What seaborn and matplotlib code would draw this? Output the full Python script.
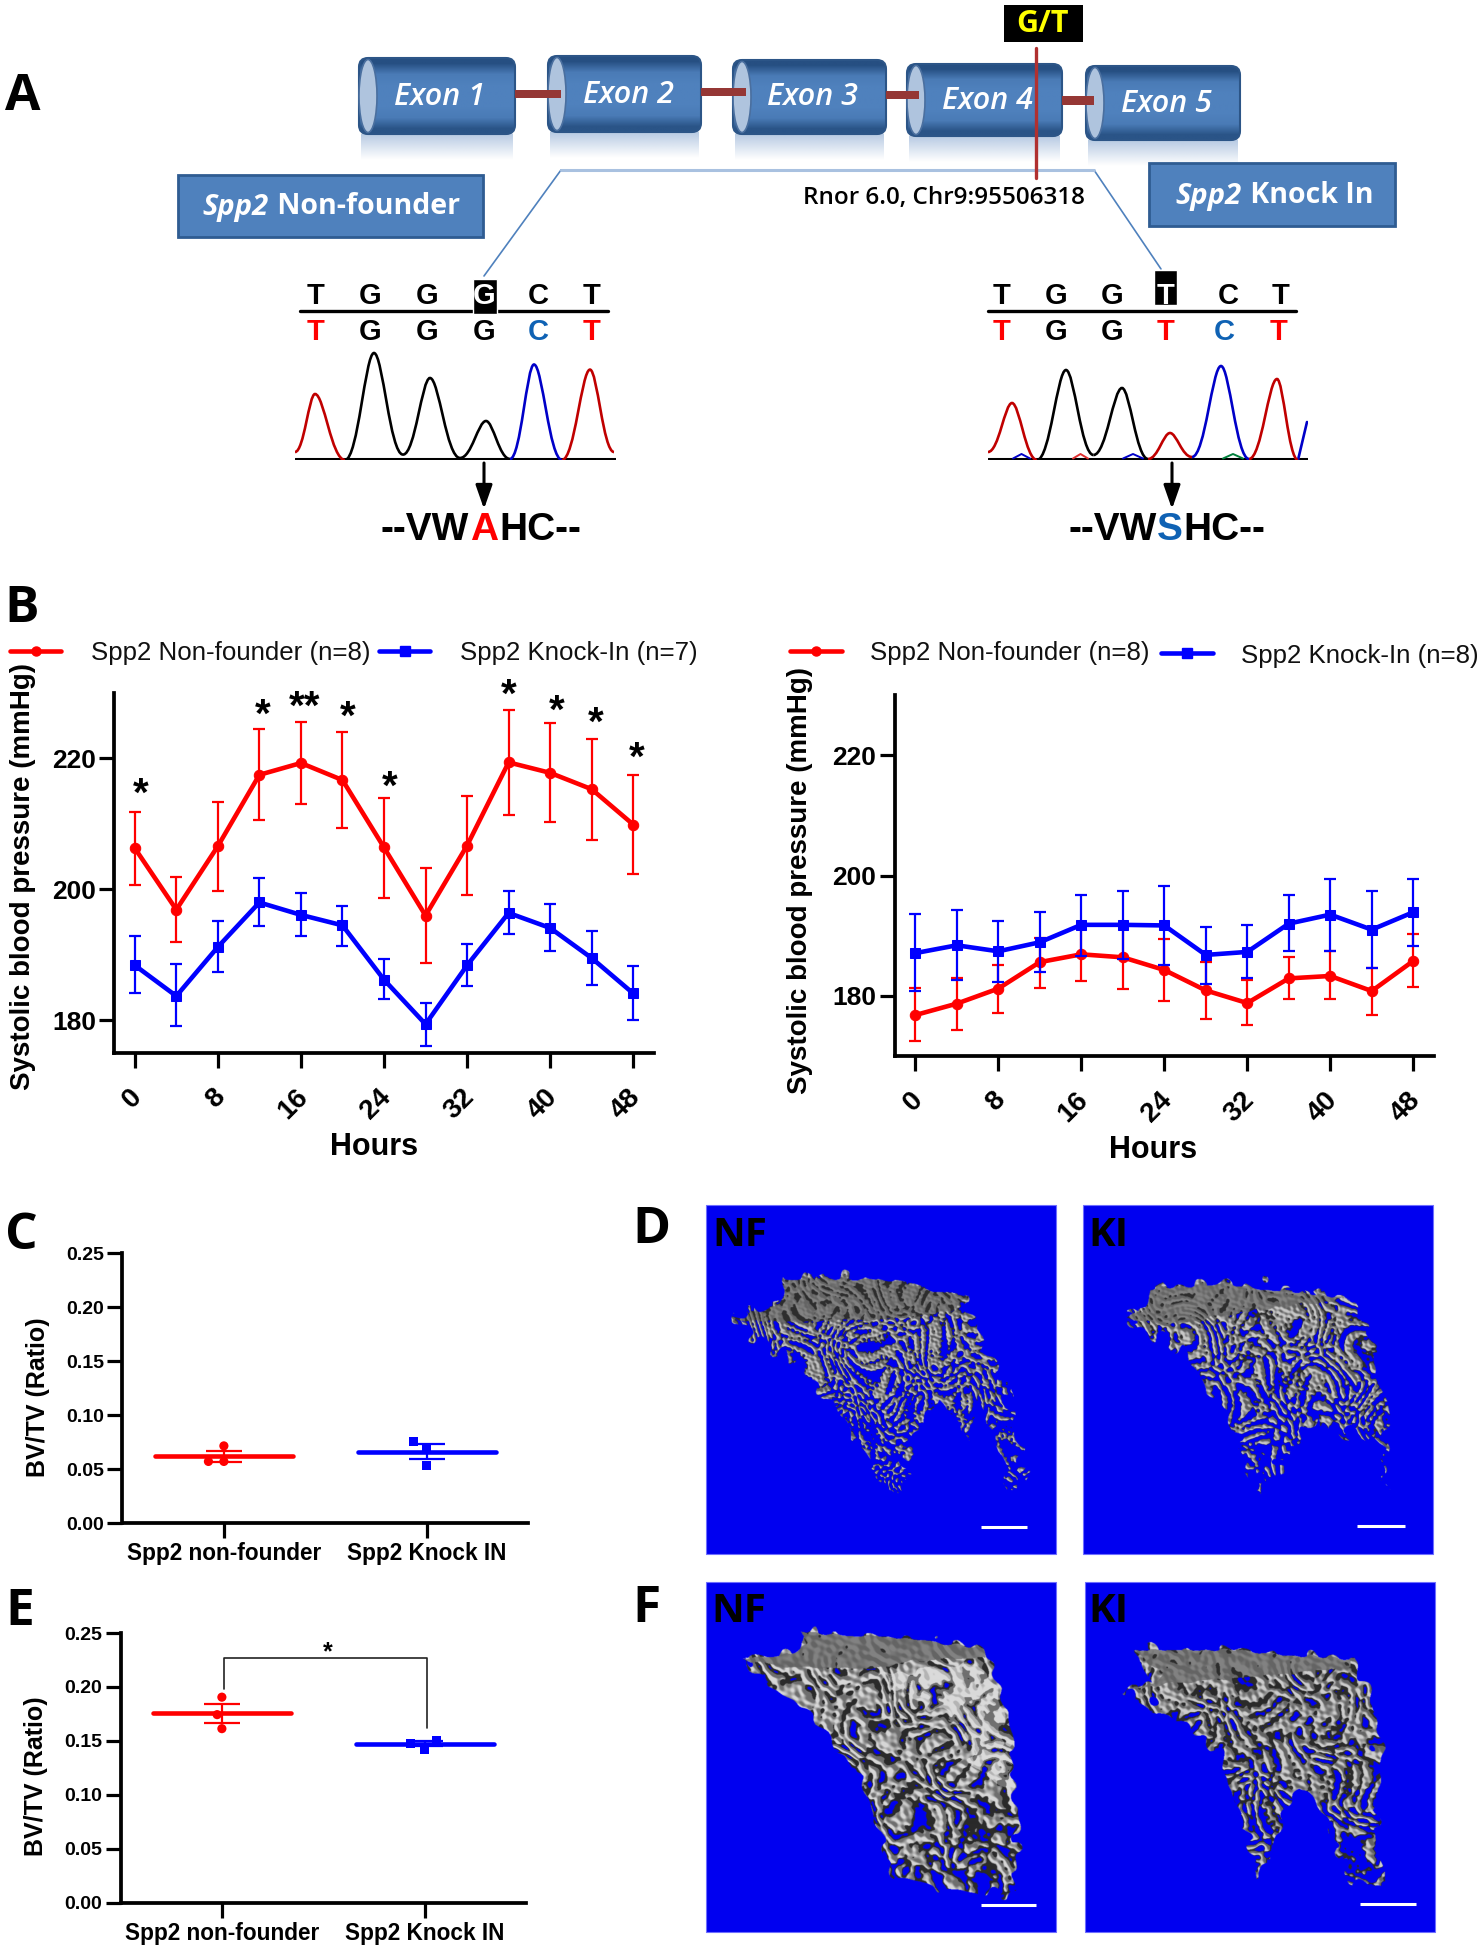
import numpy as np
import matplotlib
matplotlib.use("Agg")
import matplotlib.pyplot as plt
import seaborn as sns
from matplotlib.colors import to_rgb
from matplotlib.patches import FancyBboxPatch, Ellipse, Rectangle, PathPatch
from matplotlib.path import Path
from matplotlib.transforms import ScaledTranslation

W, H = 1481, 1950
RED = "#FF0000"
BLUE = "#0000FF"
BOX_BLUE = "#4F81BD"

# panel B, left: hourly systolic pressure
hours = [0, 4, 8, 12, 16, 20, 24, 28, 32, 36, 40, 44, 48]
hour_ticks = [0, 8, 16, 24, 32, 40, 48]
bp_ticks = [180, 200, 220]
left_nf = [206.3, 196.9, 206.6, 217.5, 219.3, 216.7, 206.4, 196.0, 206.7, 219.4, 217.8, 215.3, 209.9]
left_nf_hi = [211.8, 201.9, 213.4, 224.5, 225.6, 224.1, 214.0, 203.2, 214.3, 227.4, 225.4, 223.0, 217.5]
left_nf_lo = [200.6, 191.9, 199.7, 210.6, 213.0, 209.4, 198.7, 188.7, 199.1, 211.4, 210.3, 207.6, 202.3]
left_ki = [188.4, 183.7, 191.2, 198.0, 196.1, 194.5, 186.2, 179.4, 188.4, 196.4, 194.1, 189.5, 184.1]
left_ki_hi = [192.8, 188.6, 195.1, 201.7, 199.5, 197.5, 189.4, 182.6, 191.6, 199.7, 197.8, 193.7, 188.3]
left_ki_lo = [184.2, 179.1, 187.4, 194.4, 192.9, 191.4, 183.2, 176.1, 185.3, 193.2, 190.6, 185.4, 180.1]
star_hours = [0.6, 12.3, 16.4, 20.5, 24.6, 36.0, 40.6, 44.4, 48.3]
star_levels = [215.0, 227.2, 228.3, 226.9, 216.2, 230.2, 227.8, 225.9, 220.6]
star_marks = ["*", "*", "**", "*", "*", "*", "*", "*", "*"]

# panel B, right
right_nf = [176.8, 178.7, 181.2, 185.6, 186.9, 186.4, 184.3, 180.9, 178.8, 182.9, 183.3, 180.8, 185.8]
right_nf_hi = [181.3, 182.9, 185.2, 189.6, 191.3, 191.7, 189.4, 185.6, 182.7, 186.4, 187.4, 184.7, 190.2]
right_nf_lo = [172.5, 174.4, 177.1, 181.3, 182.5, 181.2, 179.2, 176.2, 175.1, 179.4, 179.4, 176.8, 181.5]
right_ki = [187.1, 188.4, 187.4, 188.9, 191.8, 191.8, 191.7, 186.8, 187.3, 192.0, 193.5, 191.0, 193.9]
right_ki_hi = [193.6, 194.2, 192.4, 194.0, 196.8, 197.5, 198.2, 191.4, 191.8, 196.7, 199.4, 197.5, 199.4]
right_ki_lo = [180.8, 182.7, 182.3, 183.9, 186.7, 186.1, 185.1, 182.0, 182.9, 187.4, 187.4, 184.7, 188.3]

# panels C and E: BV/TV
groups = ["Spp2 non-founder", "Spp2 Knock IN"]
ratio_ticks = [0.00, 0.05, 0.10, 0.15, 0.20, 0.25]
c_nf_points = [0.0714, 0.057, 0.057]
c_ki_points = [0.0758, 0.069, 0.053]
c_means = [0.0619, 0.066]
c_hi = [0.0669, 0.0727]
c_lo = [0.0565, 0.0592]
e_nf_points = [0.1905, 0.1743, 0.1613]
e_ki_points = [0.1505, 0.1477, 0.1419]
e_means = [0.1757, 0.1473]
e_hi = [0.1842, 0.1495]
e_lo = [0.1667, 0.1450]

# panel A: sequencing traces, peak position and height in each trace's own units
left_peak_pos = [20, 79, 135, 191, 239, 295]
left_peak_height = [66, 107, 82, 39, 95.5, 90.4]
left_valley_pos = [0, 50, 108, 165, 215, 267, 319]
left_valley_height = [8, 0, 5.4, 2, 1, 0, 8]
left_peak_colors = ["#C00000", "black", "black", "black", "#0000C8", "#C00000"]
right_peak_pos = [24, 78, 134, 182, 233, 289]
right_peak_height = [57, 90, 72, 27, 94, 81]
right_valley_pos = [0, 49, 105.5, 160, 204, 261, 310]
right_valley_height = [8, 0, 5, 1, 3, 1, 0]
right_peak_colors = ["#C00000", "black", "black", "#C00000", "#0000C8", "#C00000"]

exon_names = ["Exon 1", "Exon 2", "Exon 3", "Exon 4", "Exon 5"]
top_bases = ["T", "G", "G", "G", "C", "T"]
mut_bases = ["T", "G", "G", "T", "C", "T"]
base_colors = {"T": "#FF0000", "G": "black", "C": "#0F62B4"}

# plane waves (kx, ky, phase) summed into the porous bone surface
bone_waves = [(0.48, 0.13, 0.4), (0.31, 0.37, 1.9), (0.07, 0.49, 3.1), (-0.27, 0.41, 0.8),
              (-0.46, 0.19, 5.0), (0.58, -0.21, 2.4), (0.16, -0.56, 4.2)]


def crop_xy(points):
    arr = np.array(points, dtype=float)
    return np.column_stack([620 + arr[:, 0] / 1.821, 1190 + arr[:, 1] / 2.063])


def px_axes(fig, left, top, right, bottom):
    return fig.add_axes([left / W, 1 - bottom / H, (right - left) / W, (bottom - top) / H])


sns.set_theme(style="ticks")
plt.rcParams["font.family"] = ["Liberation Sans", "DejaVu Sans"]
plt.rcParams["font.weight"] = "bold"
plt.rcParams["axes.labelweight"] = "bold"

fig = plt.figure(figsize=(W / 100, H / 100), dpi=100, facecolor="white")
canvas = fig.add_axes([0, 0, 1, 1])
canvas.set_xlim(0, W)
canvas.set_ylim(H, 0)
canvas.axis("off")


def draw_exon(x0, x1, y0, y1, name, tx, ty):
    # soft reflection below
    fade = np.ones((40, 1, 4))
    fade[:, 0, :3] = to_rgb("#B4C8E2")
    fade[:, 0, 3] = np.linspace(0.95, 0, 40)
    canvas.imshow(fade, extent=(x0 + 2, x1 - 2, y1 + 26, y1), aspect="auto", zorder=1)
    body = FancyBboxPatch((x0, y0), x1 - x0, y1 - y0, boxstyle="round,pad=0,rounding_size=9",
                          facecolor="none", edgecolor="#2C5587", linewidth=1.5, zorder=3)
    canvas.add_patch(body)
    stops = [to_rgb("#264F82"), to_rgb("#4A7BB6"), to_rgb(BOX_BLUE), to_rgb(BOX_BLUE),
             to_rgb(BOX_BLUE), to_rgb("#4A7BB6"), to_rgb("#2A5487")]
    grad = np.array(stops).reshape(-1, 1, 3)
    im = canvas.imshow(grad, extent=(x0, x1, y1, y0), aspect="auto", zorder=2, interpolation="bilinear")
    im.set_clip_path(body)
    canvas.add_patch(Ellipse((x0 + 9, (y0 + y1) / 2), 18, y1 - y0 - 3, facecolor="#AFC4DE",
                             edgecolor="#4A6F9F", linewidth=1.2, zorder=3))
    canvas.text(tx, ty, name, color="white", style="italic", fontsize=22, fontweight="semibold",
                family="Open Sans", ha="center", va="center", zorder=5)


exon_boxes = [(359, 515, 58, 134), (548, 701, 56, 132), (733, 886, 60, 134), (907, 1062, 64, 136), (1086, 1240, 66, 140)]
exon_text_xy = [(439, 97), (628, 95), (812, 97), (987, 101), (1166, 104)]
for box, name, txy in zip(exon_boxes, exon_names, exon_text_xy):
    draw_exon(box[0], box[1], box[2], box[3], name, txy[0], txy[1])
for x0, x1, y0, y1 in [(515, 561, 90, 98), (701, 746, 88, 96), (886, 919, 91, 99), (1062, 1094, 96, 105)]:
    canvas.add_patch(Rectangle((x0, y0), x1 - x0, y1 - y0, facecolor="#953735", edgecolor="none", zorder=4))

# zoom guide lines and mutation marker
canvas.plot([484, 561, 1094, 1161], [276, 170, 170, 269], color="#4F81BD", lw=1.2, zorder=2)
canvas.plot([561, 1094], [170, 170], color="#A9C1E0", lw=2.2, zorder=2)
canvas.plot([1036, 1036], [48, 178], color="#B03030", lw=2.4, zorder=6)
canvas.add_patch(Rectangle((1004, 5), 79, 37, facecolor="black", edgecolor="none", zorder=6))
canvas.text(1043, 24, "G/T", color="#FFFF00", fontsize=22, family="Open Sans", ha="center", va="center", zorder=7)
canvas.text(944, 198, "Rnor 6.0, Chr9:95506318", color="black", fontsize=17.5, family="Open Sans",
            fontweight="semibold", ha="center", va="center", zorder=7)

# labelled boxes with italic gene name
for x0, y0, x1, y1, split, rest in [(178, 175, 483, 237, 269, " Non-founder"), (1149, 163, 1395, 226, 1242, " Knock In")]:
    canvas.add_patch(Rectangle((x0, y0), x1 - x0, y1 - y0, facecolor=BOX_BLUE, edgecolor="#2F5C92", linewidth=2, zorder=3))
    canvas.text(split, (y0 + y1) / 2 + 2, "Spp2", color="white", style="italic", fontsize=21, family="Open Sans",
                ha="right", va="center", zorder=5)
    canvas.text(split + 1, (y0 + y1) / 2 + 1, rest, color="white", fontsize=20.5, family="Open Sans",
                ha="left", va="center", zorder=5)

# base calls above the traces
left_base_x = [316, 370, 427, 484, 538, 592]
right_top_x = [1002, 1056, 1112, 1166, 1228, 1281]
right_low_x = [1002, 1056, 1112, 1166, 1224, 1279]
canvas.plot([300, 608], [311, 311], color="black", lw=2.4, zorder=3)
canvas.plot([988, 1296], [311, 311], color="black", lw=2.4, zorder=3)
canvas.add_patch(Rectangle((473, 279), 24, 35, facecolor="black", zorder=4))
canvas.add_patch(Rectangle((1154, 270), 23, 35, facecolor="black", zorder=4))
for x, b, hit in zip(left_base_x, top_bases, [0, 0, 0, 1, 0, 0]):
    canvas.text(x, 296, b, color="white" if hit else "black", fontsize=21, ha="center", va="center", zorder=5)
for x, b, hit in zip(right_top_x, mut_bases, [0, 0, 0, 1, 0, 0]):
    canvas.text(x, 296, b, color="white" if hit else "black", fontsize=21, ha="center", va="center", zorder=5)
for x, b in zip(left_base_x, top_bases):
    canvas.text(x, 332, b, color=base_colors[b], fontsize=21, ha="center", va="center", zorder=5)
for x, b in zip(right_low_x, mut_bases):
    canvas.text(x, 332, b, color=base_colors[b], fontsize=21, ha="center", va="center", zorder=5)


def draw_trace(rect, peak_pos, peak_height, valley_pos, valley_height, colors):
    ax = px_axes(fig, *rect)
    ax.set_xlim(0, rect[2] - rect[0])
    ax.set_ylim(0, rect[3] - rect[1])
    ax.axis("off")
    for i, (px, ph, col) in enumerate(zip(peak_pos, peak_height, colors)):
        x0, y0 = valley_pos[i], valley_height[i]
        x1, y1 = valley_pos[i + 1], valley_height[i + 1]
        verts = [(x0, y0), (x0 + (px - x0) * 0.45, y0), (px - (px - x0) * 0.3, ph), (px, ph),
                 (px + (x1 - px) * 0.3, ph), (x1 - (x1 - px) * 0.45, y1), (x1, y1)]
        codes = [Path.MOVETO, Path.CURVE4, Path.CURVE4, Path.CURVE4, Path.CURVE4, Path.CURVE4, Path.CURVE4]
        ax.add_patch(PathPatch(Path(verts, codes), facecolor="none", edgecolor=col, linewidth=1.9, zorder=3))
    ax.plot([0, rect[2] - rect[0]], [1, 1], color="black", lw=2.2, zorder=2)
    return ax


draw_trace((295, 345, 616, 460), left_peak_pos, left_peak_height, left_valley_pos, left_valley_height, left_peak_colors)
rt = draw_trace((988, 345, 1308, 460), right_peak_pos, right_peak_height, right_valley_pos, right_valley_height, right_peak_colors)
rt.plot([310, 319], [0, 38], color="#0000C8", lw=1.9)
for x0, x1, col in [(25, 42, "#0000C8"), (85, 100, "#E03030"), (135, 155, "#0000C8"), (235, 255, "#00803C")]:
    rt.plot([x0, (x0 + x1) / 2, x1], [1.5, 6, 1.5], color=col, lw=1.4, zorder=4)

# arrows and protein strings
for x in [484, 1172]:
    canvas.annotate("", xy=(x, 509), xytext=(x, 463), zorder=5,
                    arrowprops=dict(arrowstyle="-|>,head_width=0.42,head_length=1.2", color="black", lw=2.2, shrinkA=0, shrinkB=0))
for stop, mid, start, letter, col in [(469, 484, 499, "A", "#FF0000"), (1157, 1170, 1183, "S", "#0F62B4")]:
    canvas.text(stop, 530, "--VW", color="black", fontsize=28, ha="right", va="center", zorder=5)
    canvas.text(mid, 530, letter, color=col, fontsize=28, ha="center", va="center", zorder=5)
    canvas.text(start, 530, "HC--", color="black", fontsize=28, ha="left", va="center", zorder=5)

# panel letters
for letter, x, y in [("A", 23, 97), ("B", 22, 609), ("C", 21, 1236), ("E", 20, 1612), ("D", 651, 1230), ("F", 646, 1609)]:
    canvas.text(x, y, letter, color="black", fontsize=37, family="Open Sans", ha="center", va="center", zorder=8)


def style_axis(ax):
    sns.despine(ax=ax)
    ax.patch.set_alpha(0)
    for side in ["left", "bottom"]:
        ax.spines[side].set_linewidth(2.7)
        ax.spines[side].set_color("black")


def bp_panel(rect, ylim, nf, nf_hi, nf_lo, ki, ki_hi, ki_lo, label_x, label_y):
    ax = px_axes(fig, *rect)
    for mean, hi, lo, col, mark, size in [(nf, nf_hi, nf_lo, RED, "o", 7.5), (ki, ki_hi, ki_lo, BLUE, "s", 7)]:
        mean, hi, lo = np.array(mean), np.array(hi), np.array(lo)
        ax.errorbar(hours, mean, yerr=[mean - lo, hi - mean], fmt="none", ecolor=col, elinewidth=1.6,
                    capsize=4, capthick=1.6, clip_on=False)
        sns.lineplot(x=hours, y=mean, color=col, marker=mark, markersize=size, markeredgecolor=col,
                     linewidth=3.3, errorbar=None, ax=ax, clip_on=False)
    ax.set_xlim(-2, 50)
    ax.set_ylim(*ylim)
    ax.set_xticks(hour_ticks)
    ax.set_yticks(bp_ticks)
    ax.tick_params(axis="both", length=11, width=2.3, color="black", labelcolor="black")
    ax.tick_params(axis="y", labelsize=19, pad=2)
    ax.tick_params(axis="x", labelsize=20, pad=9)
    nudge = ScaledTranslation(-6 / 100, -3 / 100, fig.dpi_scale_trans)
    for lab in ax.get_xticklabels():
        lab.set(rotation=45, ha="right", rotation_mode="anchor")
        lab.set_transform(lab.get_transform() + nudge)
    ax.set_xlabel("")
    ax.set_ylabel("Systolic blood pressure (mmHg)", fontsize=20, color="black")
    ax.yaxis.set_label_coords(label_x, label_y)
    style_axis(ax)
    return ax


ax_left = bp_panel((114, 693, 654, 1053), (175, 230), left_nf, left_nf_hi, left_nf_lo, left_ki, left_ki_hi, left_ki_lo, -0.144, 0.489)
ax_right = bp_panel((894.5, 695, 1434, 1056), (170, 230), right_nf, right_nf_hi, right_nf_lo, right_ki, right_ki_hi, right_ki_lo, -0.151, 0.487)
for x, y, mark in zip(star_hours, star_levels, star_marks):
    ax_left.text(x, y, mark, fontsize=29, color="black", ha="center", va="center_baseline", clip_on=False)
canvas.text(374, 1147, "Hours", fontsize=22, color="black", ha="center", va="center")
canvas.text(1153.5, 1150, "Hours", fontsize=22, color="black", ha="center", va="center")

# legends of panel B
for lx0, lx1, ly, col, mark, tx, ty, label in [
    (10, 61, 651, RED, "o", 91, 653, "Spp2 Non-founder (n=8)"),
    (379, 430, 651, BLUE, "s", 460, 653, "Spp2 Knock-In (n=7)"),
    (790, 842, 651, RED, "o", 870, 653, "Spp2 Non-founder (n=8)"),
    (1161, 1213, 653, BLUE, "s", 1241, 656, "Spp2 Knock-In (n=8)"),
]:
    canvas.plot([lx0, lx1], [ly, ly], color=col, lw=3.3, zorder=5)
    canvas.plot([(lx0 + lx1) / 2], [ly], color=col, marker=mark, markersize=6.5, zorder=5)
    canvas.text(tx, ty, label, fontsize=18.6, fontweight="normal", color="#111111", ha="left", va="center", zorder=5)


def ratio_panel(rect, nf_points, ki_points, means, hi, lo, label_x, label_y):
    ax = px_axes(fig, *rect)
    for i, (col, mark, pts) in enumerate([(RED, "o", nf_points), (BLUE, "s", ki_points)]):
        ax.hlines(means[i], i - 0.34, i + 0.34, color=col, lw=3.3, capstyle="round", zorder=3)
        ax.errorbar([i], [means[i]], yerr=[[means[i] - lo[i]], [hi[i] - means[i]]], fmt="none", ecolor=col,
                    elinewidth=1.6, capsize=13, capthick=1.6, zorder=3)
        sns.swarmplot(x=[groups[i]] * len(pts), y=pts, order=groups, color=col, marker=mark, size=6.6,
                      linewidth=4, edgecolor="none", ax=ax, zorder=4)
    ax.set_xlim(-0.5, 1.5)
    ax.set_ylim(0, 0.25)
    ax.set_yticks(ratio_ticks)
    ax.set_yticklabels([f"{t:.2f}" for t in ratio_ticks])
    ax.tick_params(axis="both", length=11, width=2.3, color="black", labelcolor="black")
    ax.tick_params(axis="y", labelsize=14, pad=2)
    ax.tick_params(axis="x", labelsize=16.3, pad=3)
    ax.set_xlabel("")
    ax.set_ylabel("BV/TV (Ratio)", fontsize=18, color="black")
    ax.yaxis.set_label_coords(label_x, label_y)
    style_axis(ax)
    return ax


ax_c = ratio_panel((122.5, 1253, 528, 1523), c_nf_points, c_ki_points, c_means, c_hi, c_lo, -0.179, 0.467)
ax_e = ratio_panel((120.5, 1633, 526, 1902.6), e_nf_points, e_ki_points, e_means, e_hi, e_lo, -0.179, 0.47)
ax_e.plot([0.01, 0.01, 1.01, 1.01], [0.198, 0.2266, 0.2266, 0.162], color="#222222", lw=1.2, zorder=2)
ax_e.text(0.52, 0.2345, "*", fontsize=18, color="black", ha="center", va="center_baseline")


def wave_sum(xs, ys, scale):
    total = 0
    for kx, ky, phase in bone_waves:
        total = total + np.cos(scale * (kx * xs + ky * ys) + phase)
    return total / np.sqrt(len(bone_waves) / 2)


def bone_image(rect, outline, plate, scale, bone_level, void_start, void_end, base, pit, rag, glare=None):
    # porous surface for the micro-CT renderings: a fixed wave texture cut by the outline
    x0, y0, x1, y1 = rect
    canvas.add_patch(Rectangle((x0, y0), x1 - x0, y1 - y0, facecolor="#0000F0", edgecolor="#6F6FFF", linewidth=0.8, zorder=1))
    xs, ys = np.meshgrid(np.arange(x0, x1, 0.5), np.arange(y0, y1, 0.5))
    # ragged silhouette: test the outline against displaced pixels
    rx = xs + rag * wave_sum(ys, xs, 0.55)
    ry = ys + rag * wave_sum(xs + 40, ys - 25, 0.62)
    pts = np.column_stack([rx.ravel(), ry.ravel()])
    outer = crop_xy(outline)
    mask = Path(outer).contains_points(pts).reshape(xs.shape)
    top, bottom = outer[:, 1].min(), outer[:, 1].max()
    depth = np.clip((ys - top) / (bottom - top), 0, 1)
    # warp the sample grid so the struts wander, and add a finer second octave
    wx = xs + 9 * wave_sum(xs, ys, 0.17)
    wy = ys * 0.8 + 9 * wave_sum(ys, xs, 0.19)
    tex = wave_sum(wx, wy, scale) + 0.35 * wave_sum(ys + 11, xs - 7, scale * 2.1)
    gy, gx = np.gradient(tex)
    light = 0.5 + 0.5 * np.clip((gx - gy) * 4.0 / scale, -1, 1)
    level = bone_level + 1.0 * depth
    void = void_start + (void_end - void_start) * depth
    gray = base + 105 * light * np.clip((tex - level) * 1.3 + 0.45, 0.25, 1)
    gray = np.where(tex > level, gray, 42)
    if glare is not None:
        g_mask = Path(crop_xy(glare)).contains_points(pts).reshape(xs.shape)
        gray = np.where(g_mask & (tex > level - 1.0), np.clip(gray + 70, 0, 218), gray)
    alpha = (tex > void).astype(float) * mask
    # the cut top surface keeps a cleaner edge than the struts
    flat = np.column_stack([(xs + 0.25 * (rx - xs)).ravel(), (ys + 0.25 * (ry - ys)).ravel()])
    p_mask = Path(crop_xy(plate)).contains_points(flat).reshape(xs.shape)
    gray = np.where(p_mask & (tex > pit), 100 + 30 * light, np.where(p_mask, 45, gray))
    alpha = np.where(p_mask, 1.0, alpha)
    rgba = np.dstack([gray / 255, gray / 255, gray / 255, alpha])
    canvas.imshow(rgba, extent=(x0, x1, y1, y0), aspect="auto", zorder=2, interpolation="bilinear")


d_nf_outline = [(300, 185), (470, 183), (630, 222), (660, 320), (700, 400), (735, 560), (745, 615), (705, 610),
                (690, 500), (650, 440), (640, 520), (610, 470), (580, 440), (540, 480), (525, 560), (510, 620),
                (480, 622), (445, 540), (400, 460), (330, 370), (205, 265), (290, 240), (305, 210)]
d_nf_plate = [(205, 265), (290, 240), (305, 185), (470, 183), (630, 222), (600, 250), (500, 265), (300, 275)]
d_ki_outline = [(965, 205), (1100, 195), (1330, 225), (1360, 290), (1400, 480), (1395, 610), (1385, 530), (1340, 500),
                (1300, 500), (1270, 470), (1230, 520), (1170, 622), (1130, 540), (1090, 440), (1010, 320), (920, 265),
                (955, 250)]
d_ki_plate = [(920, 265), (955, 250), (965, 205), (1100, 195), (1330, 225), (1200, 240), (1080, 262), (1000, 280)]
f_nf_outline = [(330, 913), (560, 930), (660, 950), (700, 1060), (725, 1280), (715, 1455), (650, 1450), (620, 1445),
                (500, 1420), (470, 1320), (430, 1200), (370, 1110), (220, 970), (310, 960), (345, 935)]
f_nf_plate = [(220, 970), (310, 960), (345, 935), (327, 913), (560, 930), (660, 950), (665, 965), (540, 972), (450, 990),
              (300, 985)]
f_nf_glare = [(470, 1000), (660, 975), (690, 1060), (720, 1250), (650, 1200), (620, 1100), (520, 1040)]
f_ki_outline = [(935, 950), (1100, 950), (1330, 970), (1375, 1060), (1385, 1200), (1370, 1280), (1395, 1435), (1335, 1435),
                (1280, 1280), (1240, 1240), (1200, 1300), (1165, 1425), (1130, 1300), (1090, 1160), (1030, 1100),
                (915, 1035), (970, 1020), (950, 990)]
f_ki_plate = [(935, 950), (1100, 950), (1330, 970), (1330, 985), (1200, 1000), (1000, 1020), (915, 1035), (970, 1020),
              (990, 1000)]

bone_image((706, 1204.5, 1056, 1553.5), d_nf_outline, d_nf_plate, 1.25, -0.45, -1.1, 0.55, 90, -0.7, 4)
bone_image((1083, 1204.5, 1433, 1553.5), d_ki_outline, d_ki_plate, 1.05, -0.5, -1.3, 0.45, 95, -1.2, 4)
bone_image((706, 1582, 1056, 1931.5), f_nf_outline, f_nf_plate, 0.72, -0.75, -2.6, -0.6, 110, -2.4, 3, f_nf_glare)
bone_image((1085, 1582, 1435, 1931.5), f_ki_outline, f_ki_plate, 0.82, -0.5, -2.1, 0.1, 100, -1.9, 3)

# scale bars and image tags
for x0, x1, y in [(981, 1027, 1527), (1357, 1405, 1526), (981, 1036, 1904.5), (1360, 1416, 1904)]:
    canvas.plot([x0, x1], [y, y], color="white", lw=2.2, zorder=6, solid_capstyle="butt")
for tag, x, y in [("NF", 740, 1235), ("KI", 1108, 1235), ("NF", 739, 1612), ("KI", 1108, 1612)]:
    canvas.text(x, y, tag, color="black", fontsize=29, family="Open Sans", ha="center", va="center", zorder=6)

canvas.set_xlim(0, W)
canvas.set_ylim(H, 0)
fig.savefig("out.png", dpi=100, facecolor="white")
